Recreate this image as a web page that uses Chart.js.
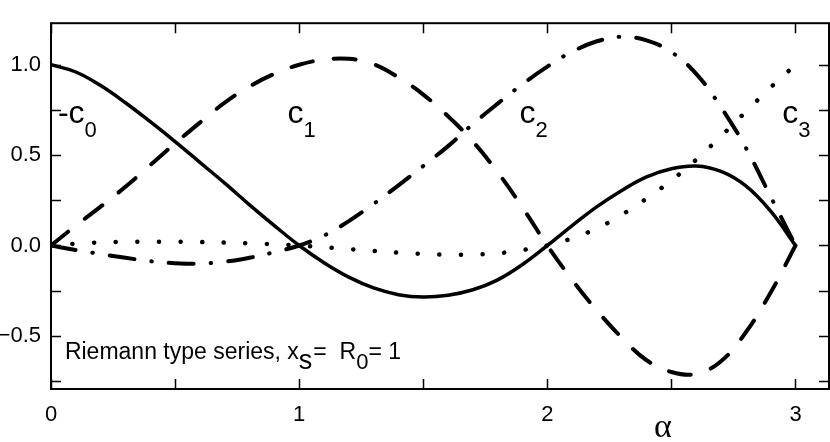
<!DOCTYPE html>
<html>
<head>
<meta charset="utf-8">
<script src="https://cdn.jsdelivr.net/npm/chart.js@4.4.1/dist/chart.umd.min.js"></script>
<style>
  html, body { margin: 0; padding: 0; background: #fff; }
  canvas { display: block; }
</style>
</head>
<body>
<canvas id="myChart" width="830" height="442"></canvas>
<script>
// valores de alfa (eixo x)
const alpha = [0, 0.1, 0.2, 0.3, 0.4, 0.5, 0.6, 0.7, 0.8, 0.9, 1.0,
               1.1, 1.2, 1.3, 1.4, 1.5, 1.6, 1.7, 1.8, 1.9, 2.0,
               2.1, 2.2, 2.3, 2.4, 2.5, 2.6, 2.7, 2.8, 2.9, 3.0];

// coeficientes
const c0 = [1.0, 0.96, 0.885, 0.79, 0.685, 0.575, 0.46, 0.345, 0.225, 0.11, 0.0,
            -0.095, -0.175, -0.235, -0.272, -0.285, -0.275, -0.245, -0.19, -0.105, 0.0,
            0.11, 0.215, 0.305, 0.38, 0.425, 0.44, 0.41, 0.33, 0.19, 0.0];
const c1 = [0, 0.11, 0.215, 0.325, 0.445, 0.565, 0.68, 0.79, 0.88, 0.95, 1.0,
            1.028, 1.033, 1.003, 0.93, 0.835, 0.715, 0.575, 0.405, 0.21, 0.0,
            -0.19, -0.36, -0.51, -0.635, -0.70, -0.71, -0.64, -0.48, -0.26, 0.0];
const c2 = [0, -0.025, -0.047, -0.068, -0.087, -0.098, -0.1, -0.09, -0.068, -0.037, 0.0,
            0.055, 0.135, 0.23, 0.333, 0.44, 0.55, 0.672, 0.785, 0.893, 0.99,
            1.072, 1.13, 1.155, 1.135, 1.07, 0.95, 0.765, 0.54, 0.27, 0.0];
const c3 = [0, 0.01, 0.017, 0.02, 0.021, 0.021, 0.019, 0.016, 0.012, 0.007, 0.0,
            -0.01, -0.02, -0.03, -0.04, -0.047, -0.05, -0.05, -0.043, -0.025, 0.0,
            0.04, 0.095, 0.17, 0.26, 0.36, 0.475, 0.605, 0.74, 0.875, 1.0];

// marcas dos eixos
const xTicks = [0, 0.5, 1, 1.5, 2, 2.5, 3];
const yTicks = [-0.75, -0.5, -0.25, 0, 0.25, 0.5, 0.75, 1.0];

// rotulos das curvas
const curveLabels = [
  { x: 0.028, y: 0.676, main: '-c', sub: '0' },
  { x: 0.953, y: 0.676, main: 'c', sub: '1' },
  { x: 1.888, y: 0.676, main: 'c', sub: '2' },
  { x: 2.947, y: 0.676, main: 'c', sub: '3' }
];

function pts(ys) {
  return alpha.map((a, i) => ({ x: a, y: ys[i] }));
}

function serie(ys, width, dash) {
  return {
    data: pts(ys),
    borderColor: '#000',
    borderWidth: width,
    borderDash: dash,
    borderCapStyle: dash.length ? 'round' : 'butt',
    borderJoinStyle: 'round',
    pointRadius: 0,
    tension: 0.4,
    fill: false
  };
}

// desenha texto com pedacos em subscrito
function drawParts(ctx, x, y, parts) {
  parts.forEach(p => {
    ctx.font = p.font;
    ctx.fillText(p.text, x, y + (p.dy || 0));
    x += ctx.measureText(p.text).width + (p.gap || 0);
  });
}

const moldura = {
  id: 'moldura',
  afterDraw(chart) {
    const ctx = chart.ctx;
    const a = chart.chartArea;
    const sx = chart.scales.x;
    const sy = chart.scales.y;
    ctx.save();
    ctx.strokeStyle = '#000';
    ctx.fillStyle = '#000';

    // caixa
    ctx.lineWidth = 2;
    ctx.strokeRect(a.left, a.top, a.right - a.left, a.bottom - a.top);

    // marcas para dentro, nos quatro lados
    ctx.lineWidth = 1.5;
    ctx.beginPath();
    xTicks.forEach(v => {
      const px = Math.round(sx.getPixelForValue(v)) + 0.5;
      ctx.moveTo(px, a.bottom); ctx.lineTo(px, a.bottom - 10);
      ctx.moveTo(px, a.top); ctx.lineTo(px, a.top + 10);
    });
    yTicks.forEach(v => {
      const py = Math.round(sy.getPixelForValue(v)) + 0.5;
      ctx.moveTo(a.left, py); ctx.lineTo(a.left + 10, py);
      ctx.moveTo(a.right, py); ctx.lineTo(a.right - 10, py);
    });
    ctx.stroke();

    // rotulos c0..c3
    ctx.textAlign = 'left';
    ctx.textBaseline = 'alphabetic';
    curveLabels.forEach(l => {
      drawParts(ctx, sx.getPixelForValue(l.x), sy.getPixelForValue(l.y), [
        { text: l.main, font: '32px "Liberation Sans", Arial, sans-serif' },
        { text: l.sub, font: '22px "Liberation Sans", Arial, sans-serif', dy: 14 }
      ]);
    });

    // legenda do texto
    const f = '23px "Liberation Sans", Arial, sans-serif';
    drawParts(ctx, sx.getPixelForValue(0.056), sy.getPixelForValue(-0.628), [
      { text: 'Riemann type series, x', font: f },
      { text: 's', font: '27px "Liberation Sans", Arial, sans-serif', dy: 10, gap: 1 },
      { text: '=  R', font: f },
      { text: '0', font: '22px "Liberation Sans", Arial, sans-serif', dy: 10 },
      { text: '= 1', font: f }
    ]);

    // alfa
    ctx.textAlign = 'center';
    ctx.textBaseline = 'middle';
    ctx.font = '34px "Liberation Serif", "Times New Roman", serif';
    ctx.fillText('α', sx.getPixelForValue(2.466), sy.getPixelForValue(-1.01));
    ctx.restore();
  }
};

const ctx = document.getElementById('myChart').getContext('2d');

const chart = new Chart(ctx, {
  type: 'line',
  data: {
    datasets: [
      serie(c0, 3.5, []),
      serie(c1, 4, [22, 21]),
      serie(c2, 4, [25, 17, 0.5, 17]),
      serie(c3, 4.5, [0.1, 21.5])
    ]
  },
  options: {
    responsive: false,
    animation: false,
    devicePixelRatio: 1,
    layout: { padding: { top: 1, right: 1, left: 0, bottom: 0 } },
    plugins: {
      legend: { display: false },
      tooltip: { enabled: false }
    },
    scales: {
      x: {
        type: 'linear',
        min: 0,
        max: 3.135,
        afterBuildTicks: s => { s.ticks = xTicks.map(v => ({ value: v })); },
        afterFit: s => { s.height = 53; },
        grid: { display: true, drawOnChartArea: false, drawTicks: false, color: 'rgba(0,0,0,0)' },
        border: { display: false },
        ticks: {
          autoSkip: false,
          maxRotation: 0,
          padding: 13,
          color: '#000',
          font: { size: 22, family: '"Liberation Sans", Arial, sans-serif' },
          callback: v => Number.isInteger(v) ? String(v) : ''
        }
      },
      y: {
        type: 'linear',
        min: -0.794,
        max: 1.23,
        afterBuildTicks: s => { s.ticks = yTicks.map(v => ({ value: v })); },
        afterFit: s => { s.width = 51; },
        grid: { display: true, drawOnChartArea: false, drawTicks: false, color: 'rgba(0,0,0,0)' },
        border: { display: false },
        ticks: {
          autoSkip: false,
          padding: 10,
          color: '#000',
          font: { size: 22, family: '"Liberation Sans", Arial, sans-serif' },
          callback: v => {
            if (Math.abs(v * 2 - Math.round(v * 2)) > 1e-6) return '';
            return v < 0 ? '\u2212' + Math.abs(v).toFixed(1) : v.toFixed(1);
          }
        }
      }
    }
  },
  plugins: [moldura]
});
</script>
</body>
</html>
